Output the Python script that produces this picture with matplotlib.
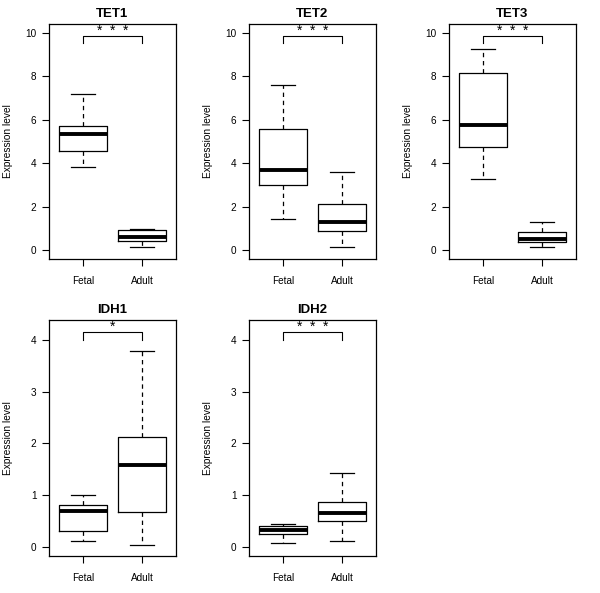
import matplotlib
matplotlib.use("Agg")
import matplotlib.pyplot as plt

plt.rcParams['font.family'] = ['Liberation Sans', 'DejaVu Sans']

genes = ["TET1", "TET2", "TET3", "IDH1", "IDH2"]
groups = ["Fetal", "Adult"]

# five-number summaries: (lower whisker, Q1, median, Q3, upper whisker)
tet1_fetal = [3.81, 4.58, 5.36, 5.73, 7.19]
tet1_adult = [0.12, 0.43, 0.59, 0.91, 0.98]
tet2_fetal = [1.41, 3.00, 3.69, 5.59, 7.60]
tet2_adult = [0.15, 0.88, 1.29, 2.10, 3.61]
tet3_fetal = [3.26, 4.76, 5.75, 8.16, 9.28]
tet3_adult = [0.15, 0.37, 0.49, 0.82, 1.29]
idh1_fetal = [0.11, 0.32, 0.69, 0.82, 1.00]
idh1_adult = [0.05, 0.68, 1.58, 2.12, 3.79]
idh2_fetal = [0.08, 0.26, 0.33, 0.40, 0.44]
idh2_adult = [0.12, 0.51, 0.66, 0.87, 1.43]

summaries = {
    "TET1": (tet1_fetal, tet1_adult),
    "TET2": (tet2_fetal, tet2_adult),
    "TET3": (tet3_fetal, tet3_adult),
    "IDH1": (idh1_fetal, idh1_adult),
    "IDH2": (idh2_fetal, idh2_adult),
}
n_stars = [3, 3, 3, 1, 3]
bracket_low = [9.55, 9.55, 9.55, 3.99, 3.99]
bracket_high = [9.88, 9.88, 9.88, 4.14, 4.14]
star_level = [10.12, 10.12, 10.12, 4.25, 4.25]
yticks_tet = [0, 2, 4, 6, 8, 10]
yticks_idh = [0, 1, 2, 3, 4]

W, H = 600, 593
fig = plt.figure(figsize=(W / 100, H / 100), dpi=100)

# axes boxes in pixels: (left, top, right, bottom)
boxes = [
    (49, 24, 176, 259), (249, 24, 376, 259), (449, 24, 576, 259),
    (49, 320, 176, 556), (249, 320, 376, 556),
]

for i, gene in enumerate(genes):
    l, t, r, b = boxes[i]
    ax = fig.add_axes([l / W, 1 - b / H, (r - l) / W, (b - t) / H])
    stats = []
    for g, s in zip(groups, summaries[gene]):
        stats.append(dict(label=g, whislo=s[0], q1=s[1], med=s[2], q3=s[3], whishi=s[4], fliers=[]))
    ax.bxp(stats, positions=[1, 2], widths=0.8, showfliers=False,
           boxprops=dict(color='black', lw=0.9),
           whiskerprops=dict(color='black', lw=0.9, ls=(0, (3.5, 3))),
           capprops=dict(color='black', lw=0.9),
           medianprops=dict(color='black', lw=2.8, solid_capstyle='butt'))
    ax.set_xlim(0.424, 2.576)
    if gene.startswith("TET"):
        ax.set_ylim(-0.41, 10.41)
        ax.set_yticks(yticks_tet)
    else:
        ax.set_ylim(-0.17, 4.38)
        ax.set_yticks(yticks_idh)
    ax.set_xticks([1, 2])
    ax.set_xticklabels(groups)
    ax.tick_params(axis='both', direction='out', length=5, width=0.8,
                   labelsize=7.2, pad=4)
    ax.tick_params(axis='x', pad=7)
    for sp in ax.spines.values():
        sp.set_linewidth(0.9)
    ax.set_title(gene, fontsize=9.5, fontweight='bold', pad=5)
    ax.set_ylabel("Expression level", fontsize=7.3)
    ax.yaxis.set_label_coords(-0.285, 0.5)
    # significance bracket
    lo, hi = bracket_low[i], bracket_high[i]
    ax.plot([1, 1, 2, 2], [lo, hi, hi, lo], color='black', lw=0.8)
    k = n_stars[i]
    for j in range(k):
        xs = 1.5 + (j - (k - 1) / 2) * 0.226
        ax.text(xs, star_level[i], "*", ha='center', va='center', fontsize=10)

fig.savefig("out.png", dpi=100)
